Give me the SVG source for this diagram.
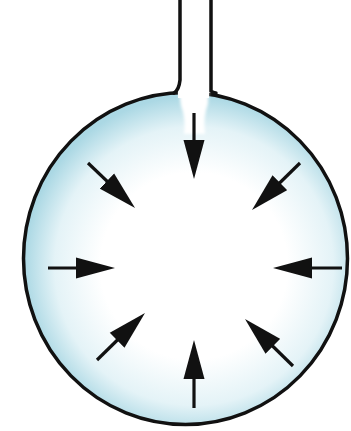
<svg xmlns="http://www.w3.org/2000/svg" width="351" height="431" viewBox="0 0 351 431">
  <defs>
    <radialGradient id="fillGrad" cx="194" cy="266" r="170" gradientUnits="userSpaceOnUse">
      <stop offset="0" stop-color="#ffffff"/>
      <stop offset="0.55" stop-color="#ffffff"/>
      <stop offset="0.82" stop-color="#e4f3f7"/>
      <stop offset="1" stop-color="#abd8e4"/>
    </radialGradient>
    <filter id="soft" x="-30%" y="-30%" width="160%" height="160%">
      <feGaussianBlur stdDeviation="1.5"/>
    </filter>
    <marker id="head" markerUnits="userSpaceOnUse" markerWidth="40" markerHeight="22" viewBox="0 0 40 22" refX="19" refY="11" orient="auto">
      <path d="M0,0.5 L39,11 L0,21.5 z" fill="#111"/>
    </marker>
    <style>
      .outline { stroke: #111; stroke-width: 3.5; fill: none; stroke-linecap: round; }
      .body { stroke: #111; stroke-width: 3.5; fill: url(#fillGrad); }
      .arrow { stroke: #111; stroke-width: 3.2; fill: none; marker-end: url(#head); }
    </style>
  </defs>
  <rect width="351" height="431" fill="#ffffff"/>
  <g id="sphere">
    <ellipse cx="185.5" cy="258.5" rx="162" ry="166" class="body"/>
    <path d="M178,86 L209,86 L208,104 Q203,116 205,134 L184,134 Q186,118 181,106 Z" fill="#ffffff" filter="url(#soft)"/>
    <rect x="178" y="86" width="31" height="12" fill="#ffffff"/>
  </g>
  <g id="tube">
    <path class="outline" d="M180,0 L180,80 Q179,90 174,93"/>
    <path class="outline" d="M211,0 L211,91 Q213,93 216,93"/>
  </g>
  <g id="connectors">
    <line class="arrow" x1="194" y1="113" x2="194" y2="159"/>
    <line class="arrow" x1="88" y1="163" x2="120.6" y2="194.2"/>
    <line class="arrow" x1="300" y1="163" x2="266.3" y2="196"/>
    <line class="arrow" x1="48" y1="268" x2="95" y2="268"/>
    <line class="arrow" x1="342" y1="268" x2="293" y2="268"/>
    <line class="arrow" x1="97" y1="360" x2="130.7" y2="327"/>
    <line class="arrow" x1="194" y1="408" x2="194" y2="360"/>
    <line class="arrow" x1="293" y1="366" x2="259.3" y2="333"/>
  </g>
</svg>
